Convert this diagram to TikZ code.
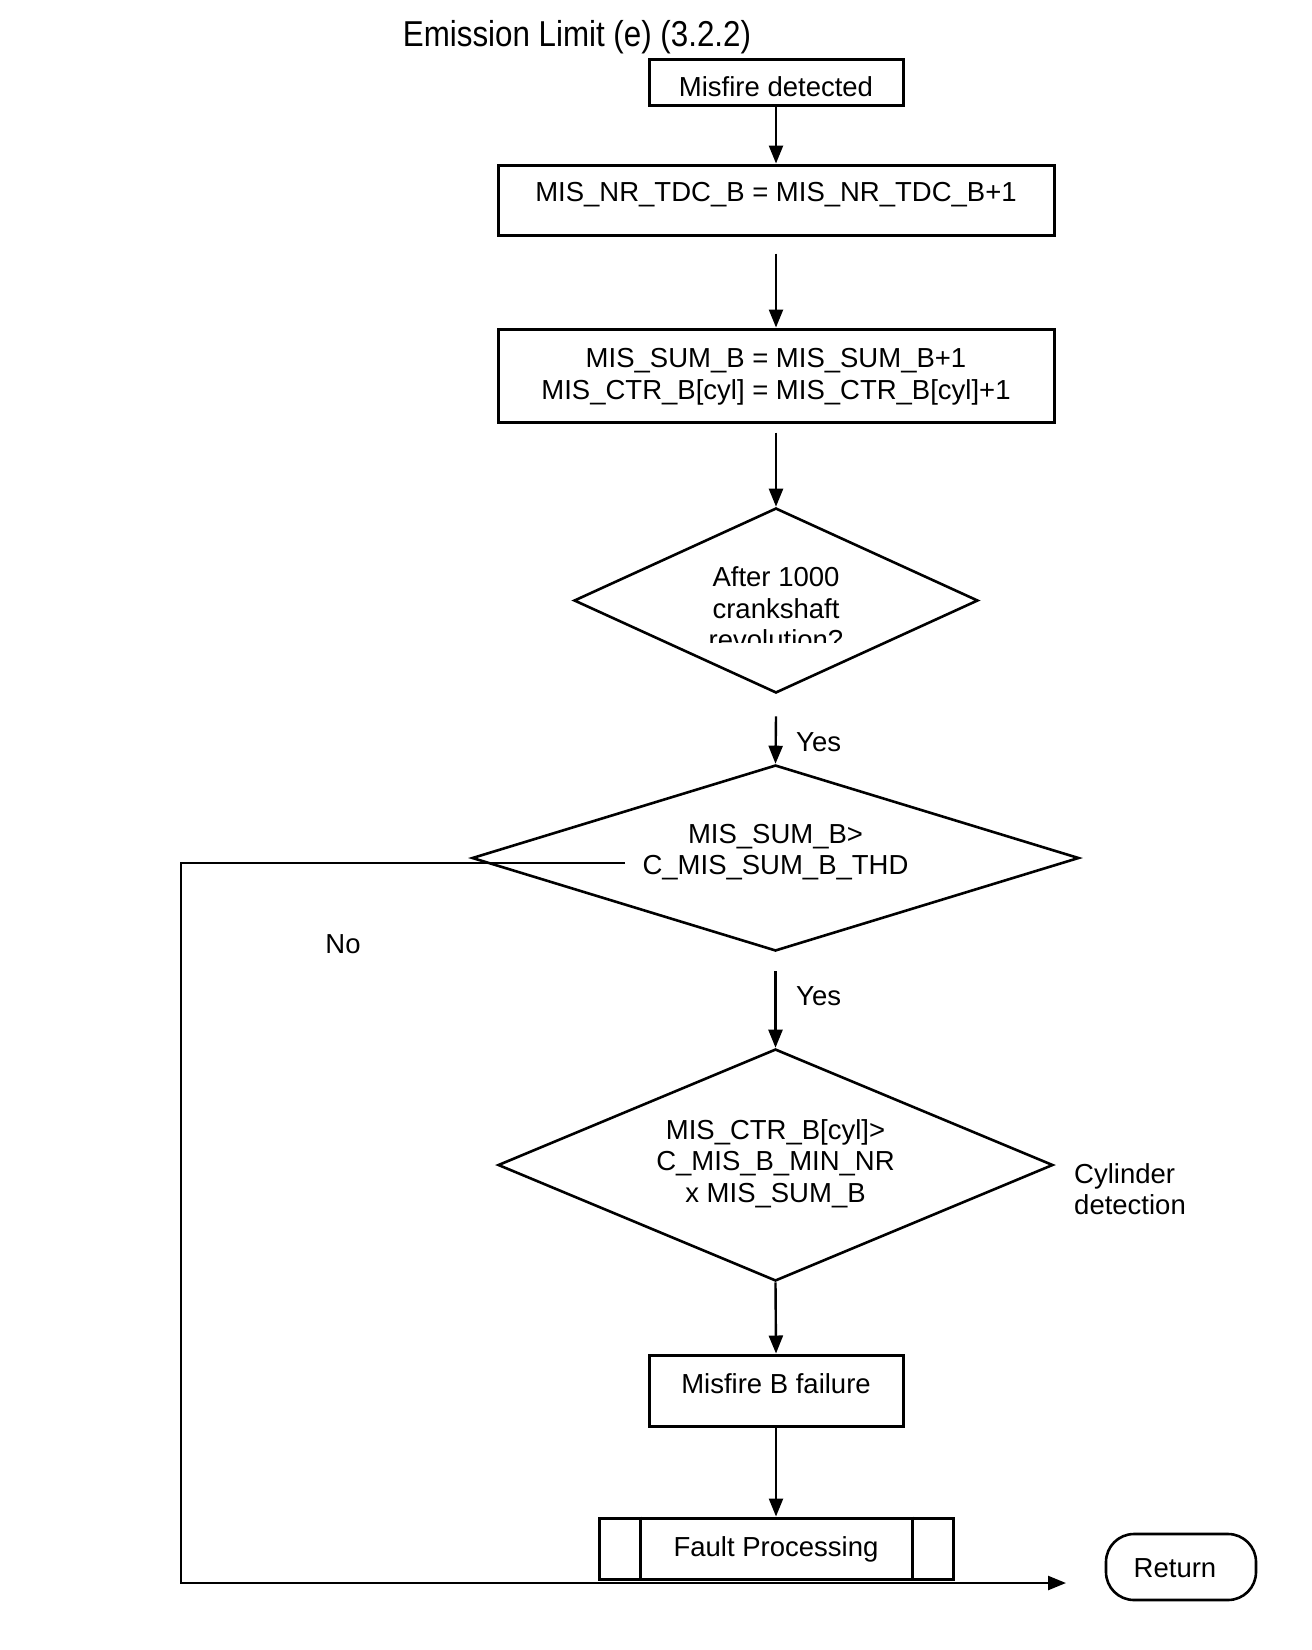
\documentclass[tikz,border=0pt]{standalone}
\usepackage{fontspec}
\setmainfont{Liberation Sans}
\usepackage{graphicx}
\usetikzlibrary{shapes.geometric,arrows.meta}
\begin{document}
\begin{tikzpicture}[x=1pt,y=-1pt,
  every node/.style={font=\fontsize{27.5}{31.5}\selectfont},
  box/.style={draw, line width=3pt, inner sep=0pt},
  dec/.style={draw, diamond, line width=2.6pt, inner sep=0pt},
  conn/.style={line width=2.4pt, -{Triangle[width=14pt,length=18pt]}},
  lbl/.style={inner sep=0pt, align=center}]
\useasboundingbox (0,0) rectangle (1312,1650);
\node[lbl, font=\fontsize{36}{40}\selectfont] (title) at (577,37) {\scalebox{0.87}[1]{Emission Limit (e) (3.2.2)}};
% boxes
\node[box, minimum width=254pt, minimum height=46pt] (b1) at (776,82) {};
\node[lbl] (t1) at (776,87) {Misfire detected};
\node[box, minimum width=556pt, minimum height=70pt] (b2) at (776,200) {};
\node[lbl] (t2) at (776,195) {MIS\_NR\_TDC\_B = MIS\_NR\_TDC\_B+1};
\node[box, minimum width=556pt, minimum height=93pt] (b3) at (776,375.5) {};
\node[lbl] (t3) at (776,376.5) {MIS\_SUM\_B = MIS\_SUM\_B+1\\MIS\_CTR\_B[cyl] = MIS\_CTR\_B[cyl]+1};
% decisions
\node[dec, minimum width=404pt, minimum height=185pt] (d1) at (776,600.5) {};
\begin{scope}
\clip (560,500) rectangle (1000,642);
\node[lbl] (td1) at (776,608.5) {After 1000\\crankshaft\\revolution?};
\end{scope}
\node[dec, minimum width=607pt, minimum height=186pt] (d2) at (775.5,858) {};
\node[lbl] (td2) at (775.5,852) {MIS\_SUM\_B>\\C\_MIS\_SUM\_B\_THD};
\node[dec, minimum width=555pt, minimum height=232pt] (d3) at (775.5,1165) {};
\node[lbl] (td3) at (775.5,1163.5) {MIS\_CTR\_B[cyl]>\\C\_MIS\_B\_MIN\_NR\\x MIS\_SUM\_B};
\node[lbl, align=left, anchor=west] (cyl) at (1074,1189) {Cylinder\\detection};
% lower boxes
\node[box, minimum width=254pt, minimum height=71pt] (b4) at (776,1390.5) {};
\node[lbl] (t4) at (776,1384) {Misfire B failure};
\node[box, minimum width=354pt, minimum height=61pt] (fp) at (776,1548.5) {};
\node[lbl] (t5) at (776,1549) {Fault Processing};
\draw[line width=2.2pt] ([xshift=43pt]fp.north west) -- ([xshift=43pt]fp.south west);
\draw[line width=2.2pt] ([xshift=-42pt]fp.north east) -- ([xshift=-42pt]fp.south east);
\node[draw, line width=2.6pt, rounded corners=28pt, minimum width=150pt, minimum height=66pt, inner sep=0pt] (ret) at (1181,1567) {};
\node[lbl] (tret) at (1175,1568) {Return};
% labels
\node[lbl, anchor=west] (yes1) at (796,742) {Yes};
\node[lbl, anchor=west] (yes2) at (796,996) {Yes};
\node[lbl] (no) at (343,944) {No};
% connectors
\draw[conn] (b1.south) -- (b2.north);
\draw[conn] ([yshift=-17pt]b2.south) -- (b3.north);
\draw[conn] ([yshift=-9pt]b3.south) -- (d1.north);
\draw[conn] ([yshift=-22pt]d1.south) -- (d2.north);
\draw[conn] ([yshift=-19pt]d2.south) -- (d3.north);
\draw[conn] (d3.south) -- (b4.north);
\draw[conn] (b4.south) -- (fp.north);
\coordinate (nostart) at (625,863);
\coordinate (nocorner) at (181,1583);
\coordinate (noend) at (1066,1583);
\draw[conn] (nostart) -| (nocorner) -- (noend);
\end{tikzpicture}
\end{document}
